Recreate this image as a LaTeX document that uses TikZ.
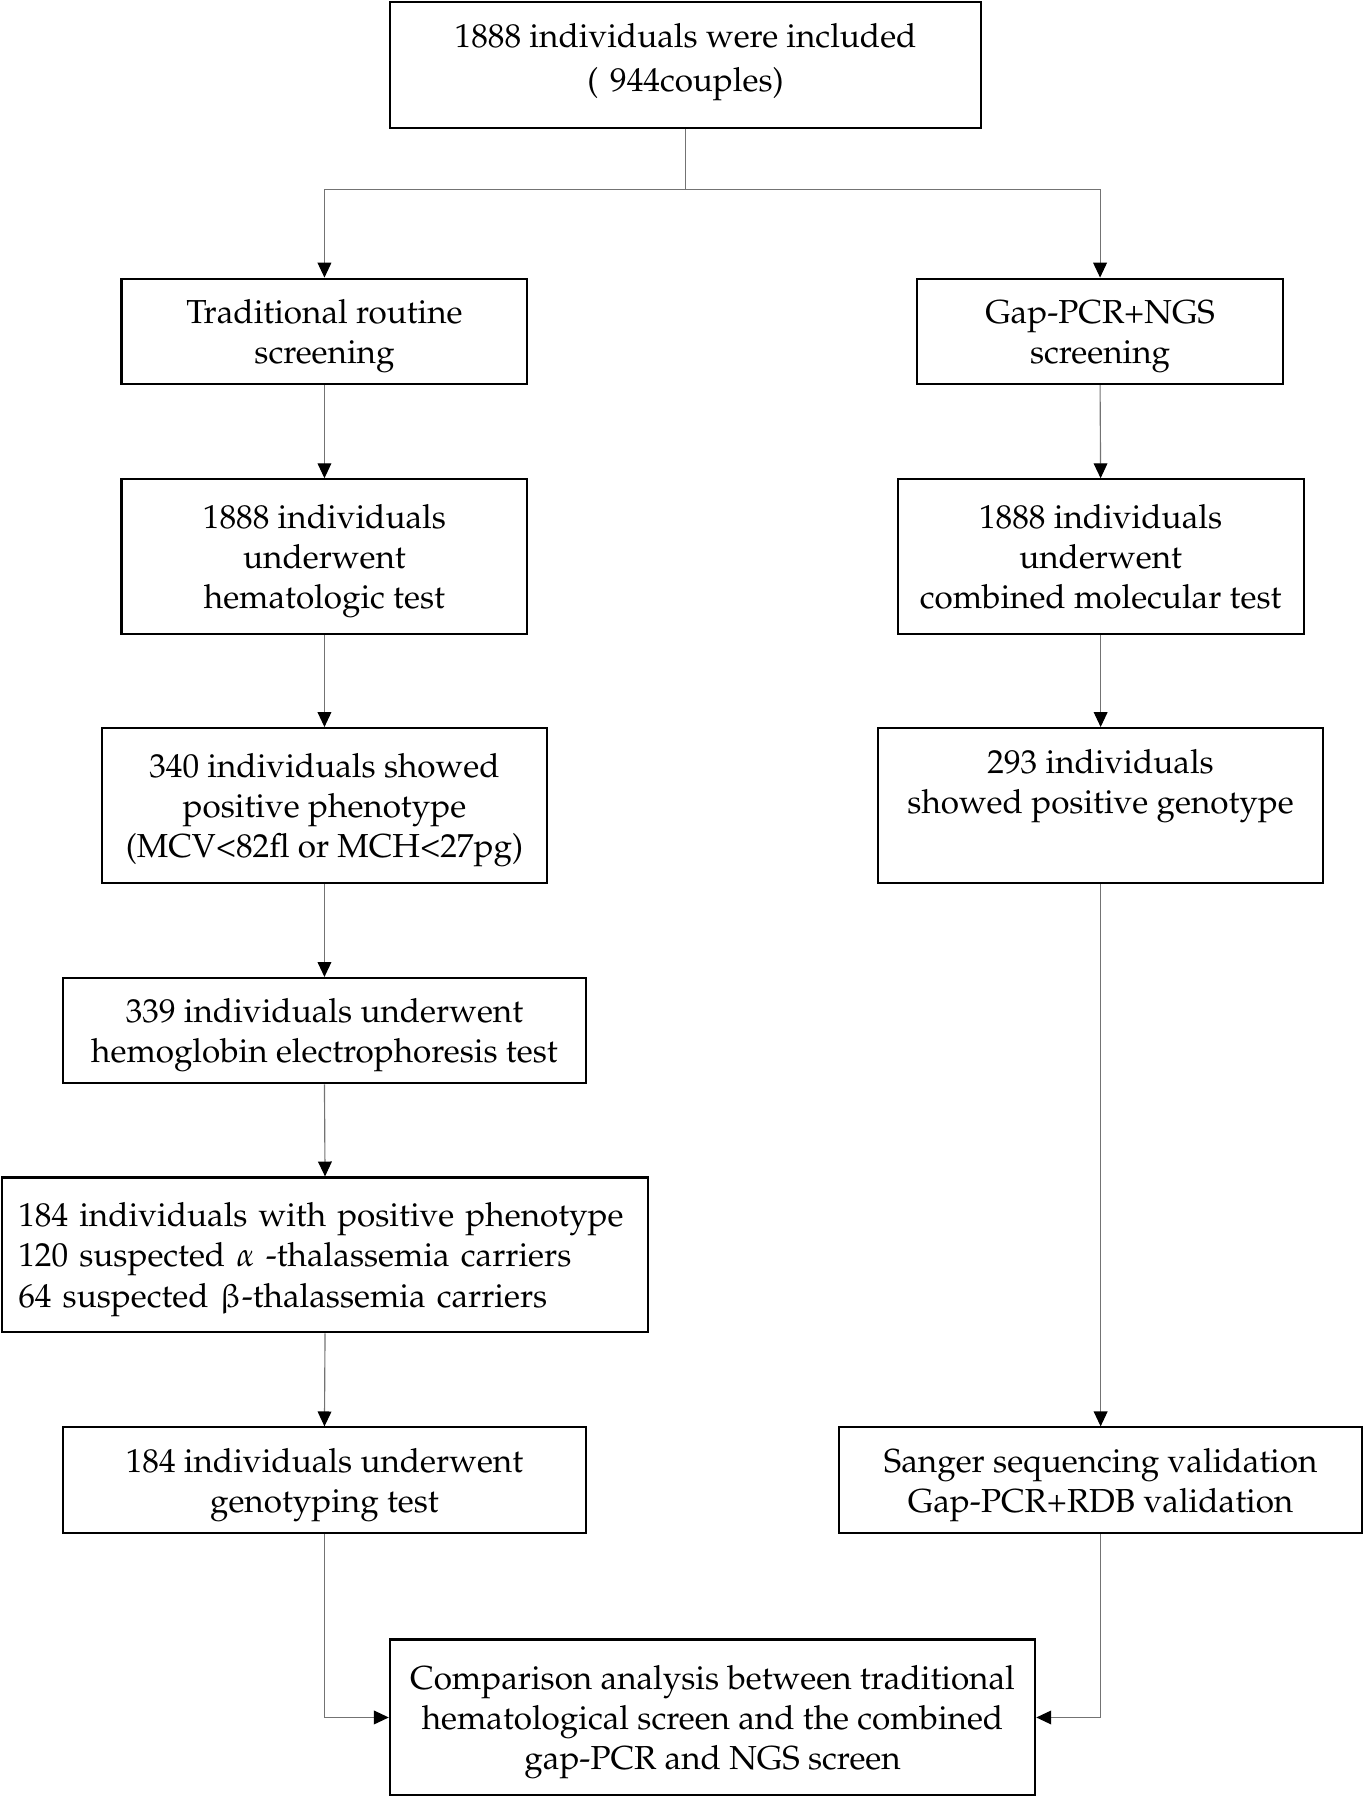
\documentclass[tikz,border=0pt]{standalone}
\usepackage[T1]{fontenc}
\usepackage{mathpazo}
\usepackage{upgreek}
\usetikzlibrary{arrows.meta}
\begin{document}
\begin{tikzpicture}[x=0.5pt,y=-0.5pt,
  box/.style={draw=black,line width=0.9pt,inner sep=0pt},
  bx/.style n args={2}{box,minimum width=#1*0.5pt,minimum height=#2*0.5pt},
  lab/.style={inner sep=0pt,align=center,
    font=\fontsize{14.5}{17.5}\selectfont},
  labs/.style={lab,yshift=-1.75pt},
  conn/.style={draw=black!55,line width=0.5pt},
  arr/.style={conn,-{Triangle[length=6.5pt,width=6pt,color=black]}}]
\useasboundingbox (0,0) rectangle (1191.4,1570);

\node[bx={516}{110},label={[lab,yshift=1.75pt]center:{\strut 1888 individuals were included\\[2pt](\hspace{0.35em}944couples)\strut}}] (top) at (598,57) {};
\node[bx={354}{92},label={[labs]center:{\strut Traditional routine\\screening\strut}}] (trad) at (283,289) {};
\node[bx={319}{92},label={[labs]center:{\strut Gap-PCR+NGS\\screening\strut}}] (gap) at (959.5,289) {};
\node[bx={354}{135},label={[labs]center:{\strut 1888 individuals\\underwent\\hematologic test\strut}}] (hem) at (283,485.5) {};
\node[bx={354}{135},label={[labs]center:{\strut 1888 individuals\\underwent\\combined molecular test\strut}}] (mol) at (960,485.5) {};
\node[bx={388}{135},label={[labs]center:{\strut 340 individuals showed\\positive phenotype\\(MCV<82fl or MCH<27pg)\strut}}] (p340) at (283,702.5) {};
\node[bx={388}{135},label={[lab,yshift=8.75pt]center:{\strut 293 individuals\\showed positive genotype\strut}}] (p293) at (960,702.5) {};
\node[bx={456}{92},label={[labs]center:{\strut 339 individuals underwent\\hemoglobin electrophoresis test\strut}}] (e339) at (283,899) {};
\node[bx={563}{135},label={[labs,align=left,text width=267.5pt]center:{\strut 184 individuals with positive phenotype\\120 suspected $\alpha$ -thalassemia carriers\\64 suspected $\upbeta$-thalassemia carriers\strut}}] (c184) at (283.5,1094.5) {};
\node[bx={456}{92},label={[labs]center:{\strut 184 individuals underwent\\genotyping test\strut}}] (g184) at (283,1291) {};
\node[bx={456}{92},label={[labs]center:{\strut Sanger sequencing validation\\Gap-PCR+RDB validation\strut}}] (sang) at (960,1291) {};
\node[bx={563}{136},label={[labs]center:{\strut Comparison analysis between traditional\\hematological screen and the combined\\gap-PCR and NGS screen\strut}}] (comp) at (621.5,1498) {};

\coordinate (split) at (598,165);
\draw[conn] (top.south) -- (split);
\draw[arr] (split) -| (trad.north);
\draw[arr] (split) -| (gap.north);
\draw[arr] (trad.south) -- (hem.north);
\draw[arr] (hem.south) -- (p340.north);
\draw[arr] (p340.south) -- (e339.north);
\draw[arr] (e339.south) -- (c184.north);
\draw[arr] (c184.south) -- (g184.north);
\draw[arr] (gap.south) -- (mol.north);
\draw[arr] (mol.south) -- (p293.north);
\draw[arr] (p293.south) -- (sang.north);
\draw[arr] (g184.south) |- (comp.west);
\draw[arr] (sang.south) |- (comp.east);
\end{tikzpicture}
\end{document}
